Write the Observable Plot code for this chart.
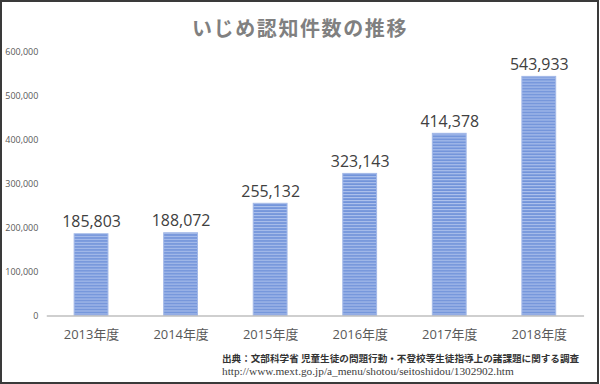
<!DOCTYPE html>
<html>
<head>
<meta charset="utf-8">
<script src="https://cdn.jsdelivr.net/npm/d3@7"></script>
<script src="https://cdn.jsdelivr.net/npm/@observablehq/plot@0.6"></script>
<style>
  html, body { margin: 0; padding: 0; background: #fff; }
  #wrap { position: relative; width: 599px; height: 384px; box-sizing: border-box; border: 2px solid #3a3a3a; overflow: hidden; }
  #title { position: absolute; left: 0; top: 11px; width: 596px; text-align: center; font-family: "Noto Sans CJK JP", sans-serif; font-weight: bold; font-size: 20px; letter-spacing: 1.6px; color: #808080; }
  #chart { position: absolute; left: -2px; top: -2px; }
  #cap1 { position: absolute; left: 220px; top: 349px; font-family: "Noto Sans CJK JP", sans-serif; font-weight: bold; font-size: 9.6px; color: #333; white-space: nowrap; }
  #cap2 { position: absolute; left: 220px; top: 363px; font-family: "Liberation Serif", "DejaVu Serif", serif; font-size: 11.3px; color: #404040; white-space: nowrap; }
</style>
</head>
<body>
<div id="wrap">
  <div id="title">いじめ認知件数の推移</div>
  <div id="chart"></div>
  <div id="cap1">出典：文部科学省 児童生徒の問題行動・不登校等生徒指導上の諸課題に関する調査</div>
  <div id="cap2">http://www.mext.go.jp/a_menu/shotou/seitoshidou/1302902.htm</div>
</div>
<script>
const years = ["2013年度", "2014年度", "2015年度", "2016年度", "2017年度", "2018年度"];
const counts = [185803, 188072, 255132, 323143, 414378, 543933];
const yTicks = [0, 100000, 200000, 300000, 400000, 500000, 600000];

const data = years.map((y, i) => ({year: y, count: counts[i]}));
const fmt = d3.format(",");

const chart = Plot.plot({
  width: 600,
  height: 384,
  marginTop: 52,
  marginBottom: 67,
  marginLeft: 47,
  marginRight: 13,
  style: {background: "transparent", fontFamily: "'Open Sans', sans-serif"},
  x: {domain: years, paddingInner: 0.61, paddingOuter: 0.305, label: null},
  y: {domain: [0, 600000], label: null},
  marks: [
    Plot.barY(data, {x: "year", y: "count", fill: "url(#stripes)", stroke: "#a3b9e8", strokeWidth: 1, insetLeft: 0.5, insetRight: 0.5}),
    Plot.ruleY([0], {stroke: "#bfbfbf", strokeWidth: 1.5}),
    Plot.text(data, {x: "year", y: "count", text: d => fmt(d.count), lineAnchor: "bottom", dy: -7, fontSize: 16, fill: "#404040", fontFamily: "'Open Sans', sans-serif"}),
    Plot.axisY({ticks: yTicks, tickFormat: fmt, tickSize: 0, tickPadding: 9, fontSize: 9, color: "#595959", label: null}),
    Plot.axisX({tickSize: 0, tickPadding: 14, fontSize: 13, color: "#595959", label: null, fontFamily: "'Open Sans', 'Noto Sans CJK JP', sans-serif"})
  ]
});

const ns = "http://www.w3.org/2000/svg";
const defs = document.createElementNS(ns, "defs");
const pat = document.createElementNS(ns, "pattern");
pat.setAttribute("id", "stripes");
pat.setAttribute("patternUnits", "userSpaceOnUse");
pat.setAttribute("width", "8");
pat.setAttribute("height", "3");
const r1 = document.createElementNS(ns, "rect");
r1.setAttribute("width", "8"); r1.setAttribute("height", "3"); r1.setAttribute("fill", "#7193da");
const r2 = document.createElementNS(ns, "rect");
r2.setAttribute("width", "8"); r2.setAttribute("height", "1.2"); r2.setAttribute("fill", "#adc1ec");
pat.appendChild(r1); pat.appendChild(r2);
defs.appendChild(pat);
chart.insertBefore(defs, chart.firstChild);

document.getElementById("chart").appendChild(chart);
</script>
</body>
</html>
